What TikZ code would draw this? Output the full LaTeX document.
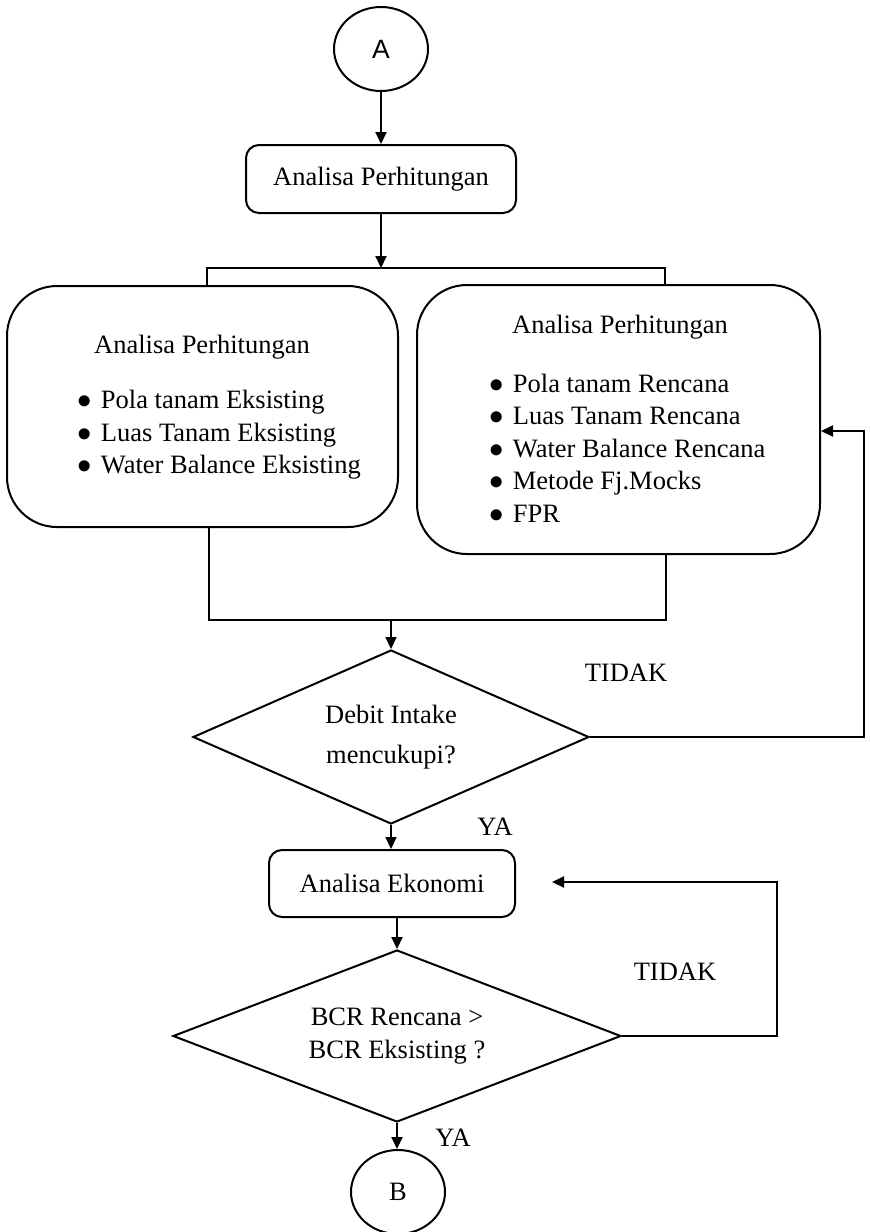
\documentclass[tikz,border=0pt]{standalone}
\usepackage{fontspec}
\setmainfont{Liberation Serif}
\newfontfamily\arialfont{Liberation Sans}
\usetikzlibrary{arrows.meta}
\usetikzlibrary{shapes.geometric}
\newcommand\bul{$\bullet$\hspace{4.5pt}}

\begin{document}
\begin{tikzpicture}[%
            x=0.5pt, y=-0.5pt,
            >={Triangle[length=6pt,width=5.5pt]},
            line width=1pt,
            every node/.style={font=\fontsize{13.25}{16.25}\selectfont},
            connector/.style={ellipse,draw,line width=1pt,inner sep=0pt,
              minimum width=47pt,minimum height=42pt},
            smallbox/.style={draw,line width=1pt,rounded corners=6.5pt,
              minimum height=34pt},
            bigbox/.style={draw,line width=1pt,rounded corners=25pt},
            decision/.style={diamond,draw,line width=1pt,inner sep=0pt,align=center},
            lbl/.style={inner sep=0pt}
          ]
            \useasboundingbox (0,0) rectangle (870,1232);

            \node [connector,font=\arialfont\fontsize{13.25}{16.25}\selectfont] (A) at (381,49) {A};
            \node [smallbox,minimum width=135pt] (analisa) at (381,179) {Analisa Perhitungan};

            % two analyses side by side
            \node [bigbox,minimum width=195.5pt,minimum height=120.5pt] (lbox) at (202.5,406.5) {};
            \node [bigbox,minimum width=201.5pt,minimum height=134.5pt] (rbox) at (618.5,419.5) {};
            \node [lbl] (ltitle) at (202,347) {Analisa Perhitungan};
            \node [lbl,anchor=west,align=left] (llist) at (76.5,435)
              {\bul Pola tanam Eksisting\\
               \bul Luas Tanam Eksisting\\
               \bul Water Balance Eksisting};
            \node [lbl] (rtitle) at (620,327) {Analisa Perhitungan};
            \node [lbl,anchor=west,align=left] (rlist) at (488.5,448)
              {\bul Pola tanam Rencana\\
               \bul Luas Tanam Rencana\\
               \bul Water Balance Rencana\\
               \bul Metode Fj.Mocks\\
               \bul FPR};

            \node [decision,aspect=2.28,minimum width=198pt,minimum height=87pt] (intake) at (391,737)
              {Debit Intake\\[4pt]mencukupi?};
            \node [smallbox,minimum width=123pt,minimum height=33.5pt] (ekonomi) at (392,883.5) {Analisa Ekonomi};
            \node [decision,aspect=2.6,minimum width=224pt,minimum height=86pt] (bcr) at (397,1036)
              {BCR Rencana \textgreater\\BCR Eksisting ?};
            \node [connector] (B) at (398,1192) {B};

            \node [lbl] (tidak1) at (626,673) {TIDAK};
            \node [lbl] (ya1) at (495,827) {YA};
            \node [lbl] (tidak2) at (675,972) {TIDAK};
            \node [lbl] (ya2) at (453,1138) {YA};

            \coordinate (split) at (381,268);
            \coordinate (lin) at (207,268);
            \coordinate (rin) at (665,268);
            \coordinate (lout) at (209,620);
            \coordinate (rout) at (666,620);
            \coordinate (join) at (391,620);
            \coordinate (back1) at (864,431);
            \coordinate (back2) at (777,882);
            \coordinate (tip2) at (552,882);

            \draw [->] (A) -- (analisa);
            \draw [->] (analisa.south) -- (split);
            \draw (lbox.north -| lin) -- (lin) -- (rin) -- (rbox.north -| rin);
            \draw (lbox.south -| lout) -- (lout) -- (rout) -- (rbox.south -| rout);
            \draw [->] (join) -- (intake.north);
            \draw [->] (intake.east) -| (back1) -- (rbox.east |- back1);
            \draw [->] (intake.south) -- (intake.south |- ekonomi.north);
            \draw [->] (ekonomi.south -| bcr) -- (bcr.north);
            \draw [->] (bcr.east) -| (back2) -- (tip2);
            \draw [->] (bcr.south) -- (bcr.south |- B.north);
          \end{tikzpicture}
\end{document}
